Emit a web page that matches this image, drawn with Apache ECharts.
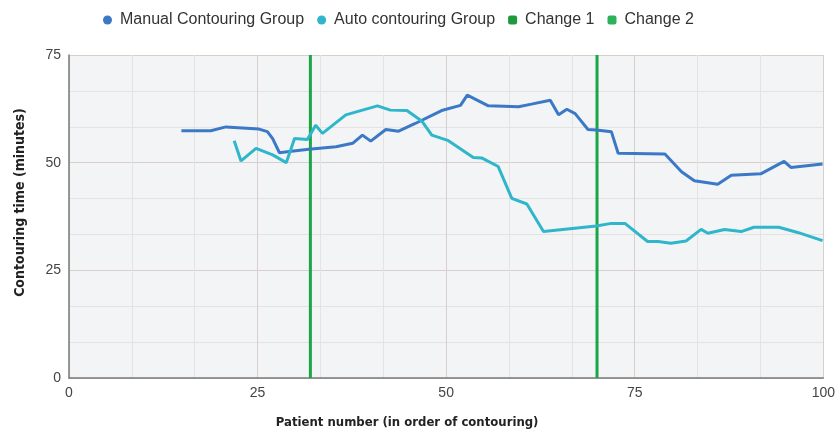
<!DOCTYPE html>
<html>
<head>
<meta charset="utf-8">
<script src="https://cdn.jsdelivr.net/npm/echarts@6/dist/echarts.min.js"></script>
<style>
  html, body { margin: 0; padding: 0; background: #fff; }
  #chart { width: 838px; height: 436px; }
</style>
</head>
<body>
<div id="chart"></div>
<script>
// values
const manualX = [14.9, 18.8, 20.8, 25.2, 26.3, 27.0, 27.9, 29.2, 31.8, 35.4, 37.6, 38.9, 40.0, 42.0, 43.7, 45.9, 49.4, 51.9, 52.8, 55.6, 59.6, 61.3, 63.8, 64.9, 66.0, 67.1, 68.8, 69.9, 71.9, 72.8, 79.0, 81.2, 82.9, 86.0, 87.8, 91.7, 94.8, 95.7, 99.9];
const manualY = [57.4, 57.4, 58.3, 57.8, 57.2, 55.6, 52.3, 52.6, 53.1, 53.7, 54.5, 56.4, 55.0, 57.7, 57.3, 59.1, 62.1, 63.3, 65.7, 63.2, 63.0, 63.6, 64.5, 61.1, 62.4, 61.4, 57.7, 57.6, 57.2, 52.2, 52.0, 47.9, 45.8, 45.0, 47.1, 47.4, 50.3, 48.9, 49.7];

const autoX = [21.9, 22.8, 24.8, 27.0, 28.8, 29.9, 31.6, 32.7, 33.6, 36.7, 38.9, 40.9, 42.6, 44.8, 46.8, 48.1, 50.3, 53.6, 54.7, 56.9, 58.7, 60.7, 62.9, 69.9, 71.9, 73.7, 76.7, 78.1, 79.8, 81.8, 83.8, 84.7, 86.9, 89.1, 90.8, 94.1, 96.6, 99.9];
const autoY = [55.1, 50.4, 53.3, 51.8, 50.0, 55.6, 55.4, 58.7, 56.8, 61.1, 62.2, 63.2, 62.2, 62.1, 59.6, 56.4, 55.1, 51.2, 51.1, 49.1, 41.7, 40.4, 34.0, 35.3, 35.9, 35.9, 31.7, 31.7, 31.3, 31.8, 34.5, 33.6, 34.5, 34.0, 35.0, 35.0, 33.8, 31.9];

const change1 = 32;
const change2 = 70;
const yTicks = [0, 75];

const zip = (xs, ys) => xs.map((x, i) => [x, ys[i]]);

const font = "'Liberation Sans', Arial, sans-serif";
const narrow = "'Liberation Sans Narrow', 'DejaVu Sans Condensed', sans-serif";

const chart = echarts.init(document.getElementById('chart'), null, { renderer: 'canvas' });

function axisCommon() {
    return {
        type: 'value',
        interval: 25,
        axisLine: { show: true, lineStyle: { color: '#7a7a7a', width: 1.5 } },
        axisTick: { show: false },
        axisLabel: { color: '#444', fontSize: 14, fontFamily: font },
        splitLine: { show: true, lineStyle: { color: '#d8cfcc', width: 1 } },
        minorTick: { show: false, splitNumber: 3 },
        minorSplitLine: { show: true, lineStyle: { color: '#e5e2e2', width: 1 } },
    };
}

function changeLine(name, x, color) {
    return {
        name,
        type: 'line',
        data: [[x, yTicks[0]], [x, yTicks[1]]],
        showSymbol: false,
        itemStyle: { color },
        lineStyle: { color: '#1aa646', width: 3 },
        z: 3,
    };
}

chart.setOption({
    animation: false,
    backgroundColor: '#fff',
    textStyle: { fontFamily: font },
    legend: {
        top: 7,
        left: 98,
        itemWidth: 9,
        itemHeight: 9,
        itemGap: 13,
        textStyle: { color: '#333', fontSize: 16, fontFamily: font, padding: [0, 0, 0, 3] },
        data: [
            { name: 'Manual Contouring Group', icon: 'circle' },
            { name: 'Auto contouring Group', icon: 'circle' },
            { name: 'Change 1', icon: 'roundRect' },
            { name: 'Change 2', icon: 'roundRect' },
        ],
    },
    grid: {
        left: 69, right: 12, top: 55, bottom: 58,
        show: true, backgroundColor: '#f3f4f6', borderWidth: 0,
    },
    xAxis: {
        ...axisCommon(),
        min: 0,
        max: 100,
        name: 'Patient number (in order of contouring)',
        nameLocation: 'middle',
        nameGap: 38,
        nameTextStyle: { color: '#222', fontSize: 13, fontWeight: 'bold', fontFamily: narrow, padding: [0, 78, 0, 0] },
    },
    yAxis: {
        ...axisCommon(),
        min: yTicks[0],
        max: yTicks[1],
        name: 'Contouring time (minutes)',
        nameLocation: 'middle',
        nameGap: 42,
        nameTextStyle: { color: '#222', fontSize: 14, fontWeight: 'bold', fontFamily: narrow, padding: [0, 0, 0, 28] },
    },
    series: [
        {
            name: 'Manual Contouring Group',
            type: 'line',
            data: zip(manualX, manualY),
            showSymbol: false,
            itemStyle: { color: '#3b79c6' },
            lineStyle: { color: '#3b79c6', width: 3 },
            z: 4,
        },
        {
            name: 'Auto contouring Group',
            type: 'line',
            data: zip(autoX, autoY),
            showSymbol: false,
            itemStyle: { color: '#2fb6cb' },
            lineStyle: { color: '#2fb6cb', width: 3 },
            z: 4,
        },
        changeLine('Change 1', change1, '#1e9a3c'),
        changeLine('Change 2', change2, '#2bb25a'),
    ],
}, true);
</script>
</body>
</html>
